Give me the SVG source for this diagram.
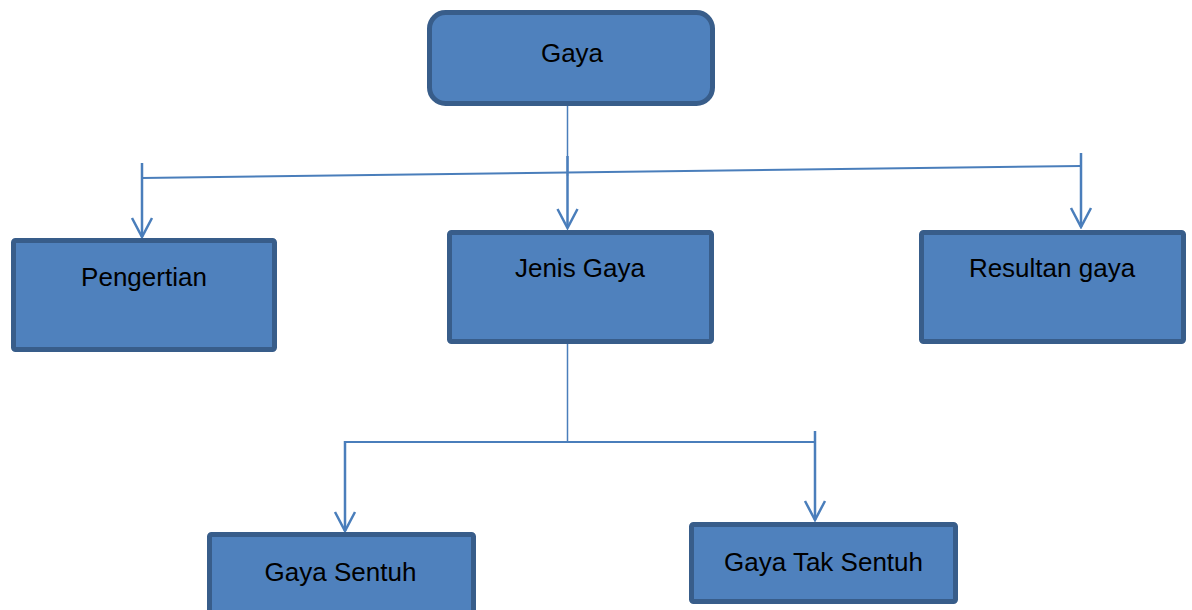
<svg xmlns="http://www.w3.org/2000/svg" width="1192" height="610" viewBox="0 0 1192 610">
<style>
.box{fill:#4F81BD;stroke:#385D8A;stroke-width:5}
.lbl{font-family:"Liberation Sans",Arial,sans-serif;font-size:26px;fill:#000;text-anchor:middle}
.ln{stroke:#4A7EBB;fill:none;stroke-width:2}
.thin{stroke:#4A7EBB;fill:none;stroke-width:1.5}
.arr{stroke:#4A7EBB;fill:none;stroke-width:2.5}
</style>
<defs>
<marker id="ah" viewBox="-22 -12 24 24" markerWidth="24" markerHeight="24" refX="0" refY="0" orient="auto" markerUnits="userSpaceOnUse">
<path d="M-19,-10 L0,0 L-19,10" fill="none" stroke="#4A7EBB" stroke-width="2.5"/>
</marker>
</defs>
<rect width="1192" height="610" fill="#fff"/>
<g id="connectors">
<line class="thin" x1="567.5" y1="106" x2="567.5" y2="176"/>
<line class="arr" x1="567.5" y1="156" x2="567.5" y2="228" marker-end="url(#ah)"/>
<line class="ln" x1="142" y1="178" x2="1081" y2="166"/>
<line class="arr" x1="142" y1="163" x2="142" y2="237" marker-end="url(#ah)"/>
<line class="arr" x1="1081" y1="153" x2="1081" y2="227" marker-end="url(#ah)"/>
<line class="thin" x1="567.5" y1="344" x2="567.5" y2="442"/>
<line class="ln" x1="345" y1="442" x2="815" y2="442"/>
<line class="arr" x1="345" y1="441" x2="345" y2="531" marker-end="url(#ah)"/>
<line class="arr" x1="815" y1="431" x2="815" y2="520" marker-end="url(#ah)"/>
</g>
<g id="node-gaya">
<rect class="box" x="429.5" y="12.5" width="283" height="91" rx="16"/>
<text class="lbl" x="572" y="62">Gaya</text>
</g>
<g id="node-pengertian">
<rect class="box" x="13.5" y="240.5" width="261" height="109" rx="2"/>
<text class="lbl" x="144" y="286">Pengertian</text>
</g>
<g id="node-jenis">
<rect class="box" x="449.5" y="232.5" width="262" height="109" rx="2"/>
<text class="lbl" x="580" y="277">Jenis Gaya</text>
</g>
<g id="node-resultan">
<rect class="box" x="921.5" y="232.5" width="262" height="109" rx="2"/>
<text class="lbl" x="1052" y="277">Resultan gaya</text>
</g>
<g id="node-sentuh">
<rect class="box" x="209.5" y="534.5" width="264" height="100" rx="2"/>
<text class="lbl" x="340.5" y="581">Gaya Sentuh</text>
</g>
<g id="node-taksentuh">
<rect class="box" x="691.5" y="524.5" width="264" height="77" rx="2"/>
<text class="lbl" x="823.5" y="571">Gaya Tak Sentuh</text>
</g>
</svg>
